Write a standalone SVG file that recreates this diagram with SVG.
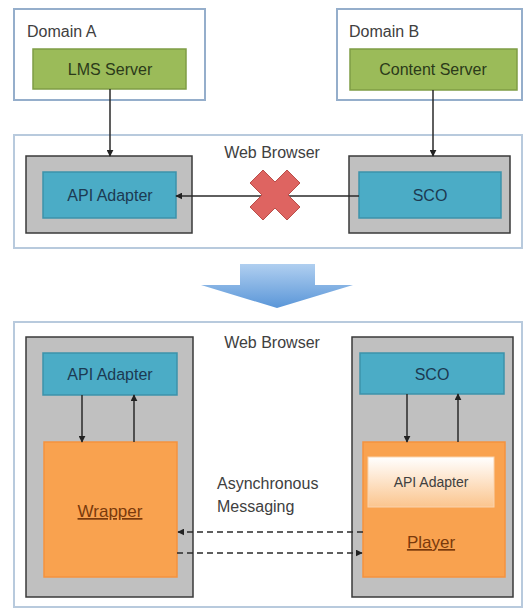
<svg xmlns="http://www.w3.org/2000/svg" width="526" height="610" viewBox="0 0 526 610">
<defs>
<marker id="ah" viewBox="0 0 10 10" refX="9" refY="5" markerWidth="7" markerHeight="7" markerUnits="userSpaceOnUse" orient="auto"><path d="M0,0 L10,5 L0,10 z" fill="#222"/></marker>
<linearGradient id="bluearrow" x1="0" y1="0" x2="0" y2="1"><stop offset="0" stop-color="#B0CFF0"/><stop offset="1" stop-color="#5A96D8"/></linearGradient>
<linearGradient id="inner" x1="0" y1="0" x2="0" y2="1"><stop offset="0" stop-color="#FFFFFF"/><stop offset="1" stop-color="#FBC58E"/></linearGradient>
</defs>
<style>
.txt{font-family:"Liberation Sans",Arial,sans-serif;font-size:16px;fill:#404040}
.ctr{text-anchor:middle}
.domain{fill:#fff;stroke:#95AECB;stroke-width:2}
.browser{fill:#fff;stroke:#B8CADD;stroke-width:2}
.green{fill:#9BBB59;stroke:#7F9D45;stroke-width:1.5}
.gray{fill:#C0C0C0;stroke:#3A3A3A;stroke-width:1.5}
.blue{fill:#4BACC6;stroke:#3D92AA;stroke-width:1.5}
.orange{fill:#F9A24F;stroke:#F5923E;stroke-width:1.5}
.dk{fill:#2B3A1A}
.nv{fill:#1C3A52}
.br{fill:#7A3A0C;text-decoration:underline;font-size:17px}
.ln{stroke:#2a2a2a;stroke-width:1.5;fill:none;marker-end:url(#ah)}
.dash{stroke:#2a2a2a;stroke-width:1.5;fill:none;stroke-dasharray:6 4;marker-end:url(#ah)}
</style>

<g id="domainA"><rect class="domain" x="14" y="9" width="191" height="91"/><text class="txt" x="27" y="37">Domain A</text></g>
<g id="lms"><rect class="green" x="33" y="49" width="153" height="40"/><text class="txt ctr dk" x="110" y="75">LMS Server</text></g>
<g id="domainB"><rect class="domain" x="337" y="9" width="185" height="91"/><text class="txt" x="349" y="37">Domain B</text></g>
<g id="content"><rect class="green" x="350" y="49" width="167" height="41"/><text class="txt ctr dk" x="433" y="75">Content Server</text></g>

<g id="browser1"><rect class="browser" x="14" y="135" width="508" height="113"/><text class="txt ctr" x="272" y="158">Web Browser</text></g>
<g id="box1L"><rect class="gray" x="26" y="156" width="166" height="77"/></g>
<g id="api1"><rect class="blue" x="43" y="172" width="133" height="46"/><text class="txt ctr nv" x="110" y="201">API Adapter</text></g>
<g id="box1R"><rect class="gray" x="349" y="156" width="161" height="77"/></g>
<g id="sco1"><rect class="blue" x="359" y="172" width="142" height="46"/><text class="txt ctr nv" x="430" y="201">SCO</text></g>

<g id="arrowDown"><polygon points="240,264 315,264 315,285 353,285 277,308 201,285 240,285" fill="url(#bluearrow)"/></g>

<g id="browser2"><rect class="browser" x="14" y="322" width="508" height="285"/><text class="txt ctr" x="272" y="348">Web Browser</text></g>
<g id="box2L"><rect class="gray" x="26" y="337" width="167" height="260"/></g>
<g id="api2"><rect class="blue" x="43" y="353" width="134" height="42"/><text class="txt ctr nv" x="110" y="380">API Adapter</text></g>
<g id="wrapper"><rect class="orange" x="44" y="442" width="133" height="135"/><text class="txt ctr br" x="110" y="517">Wrapper</text></g>
<g id="box2R"><rect class="gray" x="352" y="337" width="161" height="260"/></g>
<g id="sco2"><rect class="blue" x="360" y="353" width="144" height="41"/><text class="txt ctr nv" x="432" y="380">SCO</text></g>
<g id="player"><rect class="orange" x="363" y="442" width="142" height="135"/><text class="txt ctr br" x="431" y="548">Player</text></g>
<g id="api3"><rect x="368" y="457" width="126" height="50" fill="url(#inner)" stroke="#FAD3AE" stroke-width="1"/><text class="txt ctr" x="431" y="487" style="font-size:14px">API Adapter</text></g>

<g id="labelAsync"><text class="txt" x="217" y="489">Asynchronous</text><text class="txt" x="217" y="512">Messaging</text></g>

<g id="connectors">
<line class="ln" x1="110" y1="89" x2="110" y2="156"/>
<line class="ln" x1="433" y1="90" x2="433" y2="156"/>
<line class="ln" x1="359" y1="196" x2="176" y2="196"/>
<line class="ln" x1="82" y1="395" x2="82" y2="442"/>
<line class="ln" x1="134" y1="442" x2="134" y2="395"/>
<line class="ln" x1="407" y1="394" x2="407" y2="442"/>
<line class="ln" x1="458" y1="442" x2="458" y2="394"/>
<line class="dash" x1="363" y1="532" x2="178" y2="532"/>
<line class="dash" x1="177" y1="553" x2="362" y2="553"/>
</g>
<g id="blocked"><polygon transform="translate(275,195)" points="-25,-12 -12,-25 0,-13 12,-25 25,-12 13,0 25,12 12,25 0,13 -12,25 -25,12 -13,0" fill="#DE6461" stroke="#B94E4A" stroke-width="1" stroke-linejoin="round"/></g>
</svg>
